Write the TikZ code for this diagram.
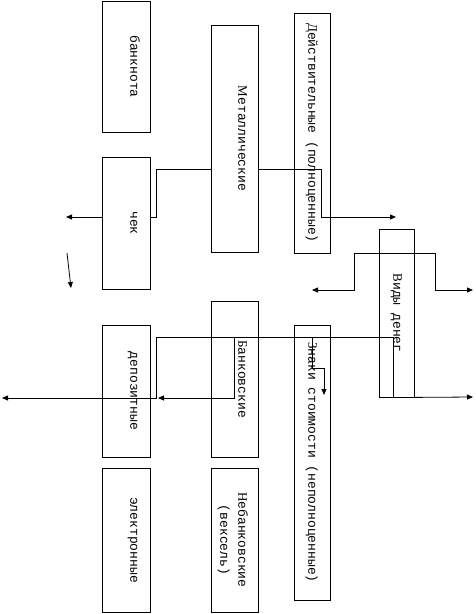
\documentclass[tikz,border=0pt]{standalone}
\usepackage{fontspec}
\setmainfont{Liberation Mono}
\newfontfamily\capfont{Liberation Serif}
\newcommand\Cap[1]{{\capfont #1}}
\usepackage{tikz}
\usetikzlibrary{arrows.meta}

\tikzset{
  box/.style={draw,line width=0.8pt,inner sep=0pt},
  lbl/.style={rotate=-90,anchor=base,inner sep=0pt,font=\fontsize{13}{15}\selectfont}
}

\begin{document}
\begin{tikzpicture}[x=1pt,y=-1pt,line width=0.8pt,>={Triangle[length=6pt,width=5pt]}]
			\useasboundingbox (0,0) rectangle (475,614);
			
			% boxes
			\node[box,minimum width=48pt,minimum height=131pt] (bnk) at (126,66.5) {};
			\node[box,minimum width=48pt,minimum height=132pt] (chek) at (126,223) {};
			\node[box,minimum width=48pt,minimum height=132pt] (dep) at (126,391) {};
			\node[box,minimum width=48pt,minimum height=144pt] (elek) at (126,540) {};
			\node[box,minimum width=47pt,minimum height=227pt] (metal) at (234.5,138.5) {};
			\node[box,minimum width=47pt,minimum height=156pt] (bankov) at (234.5,379) {};
			\node[box,minimum width=47pt,minimum height=144pt] (nebank) at (234.5,540) {};
			\node[box,minimum width=36pt,minimum height=240pt] (deistv) at (312,133) {};
			\node[box,minimum width=36pt,minimum height=275pt] (znaki) at (312,462.5) {};
			\node[box,minimum width=35pt,minimum height=168pt] (vidy) at (396.5,313) {};
			
			% texts
			\node[lbl] (bnkT) at ([xshift=-20pt]bnk.east) {банкнота};
			\node[lbl] (chekT) at ([xshift=-20pt]chek.east) {чек};
			\node[lbl] (depT) at ([xshift=-20pt]dep.east) {депозитные};
			\node[lbl] (elekT) at ([xshift=-20pt]elek.east) {электронные};
			\node[lbl] (metalT) at ([xshift=-20pt]metal.east) {\Cap{М}еталлические};
			\node[lbl] (bankovT) at ([xshift=-20pt]bankov.east) {\Cap{Б}анковские};
			\node[lbl] (nebankT) at ([xshift=-20pt]nebank.east) {\Cap{Н}ебанковские};
			\node[lbl] (veksT) at ([xshift=-38pt]nebank.east) {(вексель)};
			\node[lbl] (deistvT) at ([xshift=-22pt]deistv.east) {\Cap{Д}ействительные (полноценные)};
			\node[lbl] (znakiT) at ([xshift=-22pt]znaki.east) {\Cap{З}наки стоимости (неполноценные)};
			\node[lbl] (vidyT) at ([xshift=-21pt]vidy.east) {\Cap{В}иды денег};
			
			% free ends
			\coordinate (tipA) at (66,217);
			\coordinate (tipB) at (396,217);
			\coordinate (tipC) at (312,290);
			\coordinate (tipD) at (473,290);
			\coordinate (tipE) at (2,398);
			\coordinate (tipF) at (158,398);
			\coordinate (tipG) at (324,395);
			\coordinate (tipH) at (473,397);
			\coordinate (sA) at (67,253);
			\coordinate (tipS) at (71,288);
			
			% connectors
			\draw (metal.west |- 0,169) -- (156,169) -- (156,217) -- (chek.east |- 0,217);
			\draw[->] (chek.west |- 0,217) -- (tipA);
			\draw[->] (sA) -- (tipS);
			\draw[->] (metal.east |- 0,169) -- (321,169) -- (321,217) -- (tipB);
			\draw[<->] (tipC) -- (354,290) -- (354,253) -- (435,253) -- (435,290) -- (tipD);
			\draw[->] (vidy.south -| 393,0) -- (393,337) -- (156,337) -- (156,398) -- (tipE);
			\draw[->] (234,337) -- (234,398) -- (tipF);
			\draw[->] (312,337) -- (312,368) -- (324,368) -- (tipG);
			\draw[->] (vidy.south east) -- (tipH);
		\end{tikzpicture}
\end{document}
